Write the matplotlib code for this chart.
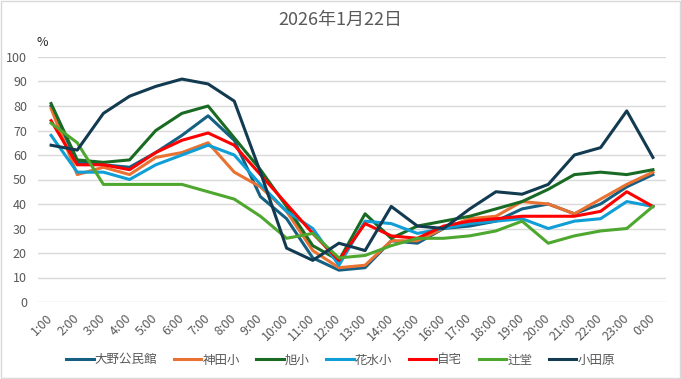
import numpy as np
import matplotlib
matplotlib.use('Agg')
import matplotlib.pyplot as plt
from matplotlib.patches import Rectangle

plt.rcParams['font.family'] = ['Noto Sans CJK JP', 'DejaVu Sans']

title = '2026年1月22日'

hours = ['1:00', '2:00', '3:00', '4:00', '5:00', '6:00', '7:00', '8:00',
         '9:00', '10:00', '11:00', '12:00', '13:00', '14:00', '15:00', '16:00',
         '17:00', '18:00', '19:00', '20:00', '21:00', '22:00', '23:00', '0:00']

names = ['大野公民館', '神田小', '旭小', '花水小', '自宅', '辻堂', '小田原']

ono = [80, 57, 56, 55, 61, 68, 76, 66, 43, 34, 18, 13, 14, 25, 24, 30, 31, 33, 38, 40, 36, 40, 47, 52]
kanda = [79, 52, 55, 52, 59, 61, 65, 53, 47, 37, 21, 14, 15, 25, 25, 30, 34, 35, 41, 40, 36, 42, 48, 53]
asahi = [81, 58, 57, 58, 70, 77, 80, 67, 54, 39, 23, 17, 36, 26, 31, 33, 35, 38, 41, 46, 52, 53, 52, 54]
hanamizu = [68, 53, 53, 50, 56, 60, 64, 60, 48, 37, 30, 15, 33, 32, 28, 30, 32, 33, 34, 30, 33, 34, 41, 39]
jitaku = [74, 56, 56, 54, 61, 66, 69, 64, 52, 40, 28, 17, 32, 27, 26, 31, 33, 34, 35, 35, 35, 37, 45, 39]
tsujido = [73, 65, 48, 48, 48, 48, 45, 42, 35, 26, 28, 18, 19, 23, 26, 26, 27, 29, 33, 24, 27, 29, 30, 39]
odawara = [64, 62, 77, 84, 88, 91, 89, 82, 53, 22, 17, 24, 21, 39, 31, 30, 38, 45, 44, 48, 60, 63, 78, 59]

colors = ['#156082', '#E97132', '#196B24', '#0F9ED5', '#FF0000', '#4EA72E', '#123a50']


def main():
    series = [ono, kanda, asahi, hanamizu, jitaku, tsujido, odawara]
    x = np.arange(len(hours))
    gray = '#595959'

    fig = plt.figure(figsize=(6.81, 3.79), dpi=100)
    ax = fig.add_axes([38 / 681, 1 - 302 / 379, 628 / 681, 245 / 379])

    for name, vals, c in zip(names, series, colors):
        ax.plot(x, vals, color=c, lw=2.2, label=name, solid_joinstyle='round')

    ax.set_xlim(-0.5, len(hours) - 0.5)
    ax.set_ylim(0, 100)
    ax.set_yticks(np.arange(0, 101, 10))
    ax.set_xticks(x)
    ax.set_xticklabels(hours, rotation=45, ha='right', va='center', rotation_mode='anchor')
    ax.tick_params(axis='both', length=0, labelsize=9, labelcolor=gray)
    ax.tick_params(axis='y', pad=8)
    ax.tick_params(axis='x', pad=10)
    ax.grid(axis='y', color='#d9d9d9', lw=1)
    ax.set_axisbelow(True)
    for s in ax.spines.values():
        s.set_visible(False)

    # title and unit label
    fig.text(0.5, 1 - 20 / 379, title, ha='center', va='center', fontsize=13, color=gray)
    fig.text(42 / 681, 1 - 43 / 379, '%', ha='center', va='center', fontsize=9, color='#262626')

    fig.legend(loc='center', bbox_to_anchor=(0.5, 1 - 360 / 379), ncol=7, frameon=False,
               fontsize=9, labelcolor=gray, handlelength=2.2, handletextpad=0.1,
               columnspacing=1.3)

    # chart border
    fig.add_artist(Rectangle((0.001, 0.002), 0.997, 0.995, transform=fig.transFigure,
                             fill=False, ec='#d9d9d9', lw=1))

    fig.savefig('out.png', dpi=100)


if __name__ == '__main__':
    main()
